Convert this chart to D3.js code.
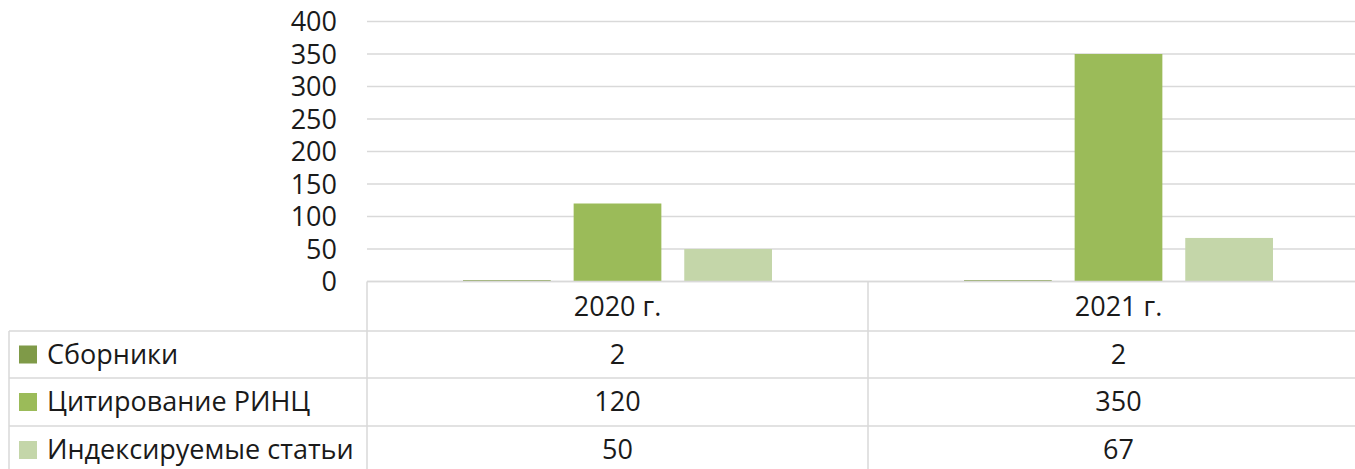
<!DOCTYPE html>
<html>
<head>
<meta charset="utf-8">
<script src="https://cdn.jsdelivr.net/npm/d3@7"></script>
<style>
  html, body { margin: 0; padding: 0; background: #fff; }
  svg { display: block; }
  text { font-family: "Open Sans", "Noto Sans", sans-serif; fill: #1a1a1a; }
</style>
</head>
<body>
<svg id="chart" width="1355" height="469"></svg>
<script>
const categories = ["2020 г.", "2021 г."];
const seriesNames = ["Сборники", "Цитирование РИНЦ", "Индексируемые статьи"];
const seriesColors = ["#7F9A48", "#9BBB59", "#C4D6A9"];
const sborniki = [2, 2];
const citirovanie = [120, 350];
const indeks = [50, 67];
const yTicks = [0, 50, 100, 150, 200, 250, 300, 350, 400];

const seriesValues = [sborniki, citirovanie, indeks];

const svg = d3.select("#chart");
const fontSize = 27;
const gridColor = "#d9d9d9";

const plotLeft = 367, plotRight = 1369;
const y = d3.scaleLinear().domain([0, 400]).range([281.5, 21.5]);
const x0 = d3.scaleBand().domain(categories).range([plotLeft, plotRight]).paddingInner(0).paddingOuter(0);
const x1 = d3.scaleBand().domain(seriesNames).range([0, x0.bandwidth()]).paddingInner(0.207).paddingOuter(0.868);

// gridlines
svg.append("g").selectAll("line").data(yTicks).join("line")
  .attr("x1", plotLeft).attr("x2", plotRight)
  .attr("y1", d => y(d)).attr("y2", d => y(d))
  .attr("stroke", gridColor).attr("stroke-width", 1.5);

// y axis labels
const yAxis = d3.axisLeft(y).tickValues(yTicks).tickSize(0).tickPadding(0);
const yg = svg.append("g").attr("transform", "translate(337,0)").call(yAxis);
yg.select(".domain").remove();
yg.selectAll("text").attr("font-size", fontSize).attr("font-family", "Open Sans").attr("fill", "#1a1a1a").attr("dy", "0.34em");

// bars
const barData = [];
categories.forEach((c, ci) => {
  seriesNames.forEach((s, si) => {
    barData.push({ cat: c, series: s, value: seriesValues[si][ci], color: seriesColors[si] });
  });
});
svg.append("g").selectAll("rect").data(barData).join("rect")
  .attr("x", d => x0(d.cat) + x1(d.series))
  .attr("width", x1.bandwidth())
  .attr("y", d => y(d.value))
  .attr("height", d => y(0) - y(d.value))
  .attr("fill", d => d.color);

// data table
const tableTop = 281.5;
const rowBounds = [281.5, 331, 378, 426, 474];
const tableLeft = 9;
const tg = svg.append("g");
// horizontal lines
rowBounds.slice(0, 4).forEach((yy, i) => {
  tg.append("line")
    .attr("x1", i === 0 ? plotLeft : tableLeft).attr("x2", plotRight)
    .attr("y1", yy).attr("y2", yy)
    .attr("stroke", gridColor).attr("stroke-width", 1.5);
});
// vertical lines
tg.append("line").attr("x1", tableLeft).attr("x2", tableLeft).attr("y1", 331).attr("y2", 469)
  .attr("stroke", gridColor).attr("stroke-width", 1.5);
[plotLeft, plotLeft + x0.bandwidth()].forEach(xx => {
  tg.append("line").attr("x1", xx).attr("x2", xx).attr("y1", tableTop).attr("y2", 469)
    .attr("stroke", gridColor).attr("stroke-width", 1.5);
});
// header
tg.selectAll("text.hdr").data(categories).join("text").attr("class", "hdr")
  .attr("x", d => x0(d) + x0.bandwidth() / 2)
  .attr("y", (rowBounds[0] + rowBounds[1]) / 2)
  .attr("dy", "0.35em")
  .attr("text-anchor", "middle")
  .attr("font-size", fontSize)
  .text(d => d);
// rows
seriesNames.forEach((s, si) => {
  const cy = (rowBounds[si + 1] + rowBounds[si + 2]) / 2;
  tg.append("rect").attr("x", 19).attr("y", cy - 9).attr("width", 18).attr("height", 18)
    .attr("fill", seriesColors[si]);
  tg.append("text").attr("x", 47).attr("y", cy).attr("dy", "0.35em")
    .attr("font-size", fontSize).text(s);
  categories.forEach((c, ci) => {
    tg.append("text").attr("x", x0(c) + x0.bandwidth() / 2).attr("y", cy).attr("dy", "0.35em")
      .attr("text-anchor", "middle").attr("font-size", fontSize).text(seriesValues[si][ci]);
  });
});
</script>
</body>
</html>
